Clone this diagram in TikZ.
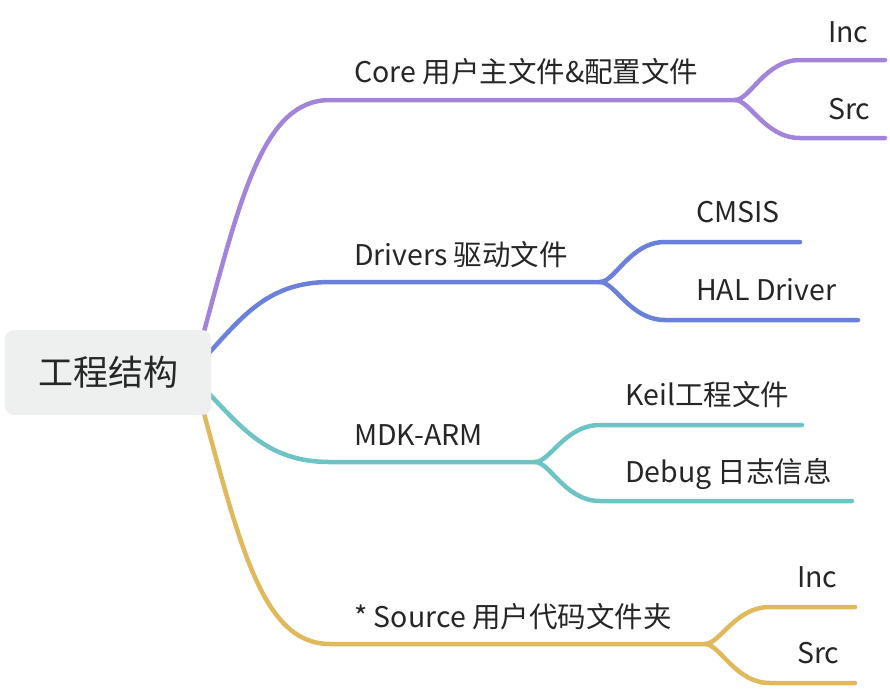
\documentclass[tikz,border=0pt]{standalone}
\usepackage{fontspec}
\setmainfont{Noto Sans CJK SC}
\usetikzlibrary{calc,backgrounds}
\definecolor{corec}{HTML}{A384DB}
\definecolor{drvc}{HTML}{6B80DA}
\definecolor{mdkc}{HTML}{6EC4C4}
\definecolor{usrc}{HTML}{DFB95C}
\definecolor{rootc}{HTML}{EEF0EF}
\definecolor{txtc}{HTML}{262626}
\tikzset{
    topic/.style = {fill=rootc, rounded corners=9pt,
        minimum width=206pt, minimum height=85pt, text=txtc,
        font=\fontsize{35pt}{40pt}\selectfont},
    sub/.style = {inner sep=0pt, anchor=base west, text=txtc,
        font=\fontsize{28.5pt}{33pt}\selectfont},
    branch/.style = {line width=4.5pt, line cap=round}
}

\begin{document}
\begin{tikzpicture}[x=1pt,y=-1pt]
    \useasboundingbox (0,0) rectangle (890,689);
    \node [topic] (root) at (108,372.5) {工程结构};
    % labels
    \node [sub] (core) at (354,82) {Core 用户主文件\&配置文件};
    \node [sub] (coreinc) at (828,42) {Inc};
    \node [sub] (coresrc) at (828,119) {Src};
    \node [sub] (drv) at (354,265) {Drivers 驱动文件};
    \node [sub] (cmsis) at (696,222) {CMSIS};
    \node [sub] (hal) at (696,300) {HAL Driver};
    \node [sub] (mdk) at (354,445) {MDK-ARM};
    \node [sub] (keil) at (625,405) {Keil工程文件};
    \node [sub] (dbg) at (625,482) {Debug 日志信息};
    \node [sub] (usr) at (354,627) {* Source 用户代码文件夹};
    \node [sub] (usrinc) at (797,587) {Inc};
    \node [sub] (usrsrc) at (797,663) {Src};
    % branch points
    \coordinate (coreA) at (330,100);
    \coordinate (coreJ) at (735,100);
    \coordinate (coreI) at (885,60);
    \coordinate (coreS) at (885,138);
    \coordinate (drvA) at (330,282);
    \coordinate (drvJ) at (600,282);
    \coordinate (drvC) at (800,242);
    \coordinate (drvH) at (858,320);
    \coordinate (mdkA) at (330,462);
    \coordinate (mdkJ) at (535,462);
    \coordinate (mdkK) at (802,425);
    \coordinate (mdkD) at (852,501);
    \coordinate (usrA) at (330,644);
    \coordinate (usrJ) at (705,644);
    \coordinate (usrI) at (855,607);
    \coordinate (usrS) at (855,683);
    \begin{scope}[on background layer]
        \draw [branch,corec] ($(root.east)+(-11,-27)$) .. controls (240,200) and (262,100) .. (coreA) -- (coreJ);
        \draw [branch,corec] (coreJ) .. controls +(15,0) and +(-35,0) .. ($(coreJ |- coreI)+(65,0)$) -- (coreI);
        \draw [branch,corec] (coreJ) .. controls +(15,0) and +(-35,0) .. ($(coreJ |- coreS)+(65,0)$) -- (coreS);
        \draw [branch,drvc] ($(root.east)+(-11,-10)$) .. controls (240,320) and (265,282) .. (drvA) -- (drvJ);
        \draw [branch,drvc] (drvJ) .. controls +(15,0) and +(-35,0) .. ($(drvJ |- drvC)+(65,0)$) -- (drvC);
        \draw [branch,drvc] (drvJ) .. controls +(15,0) and +(-35,0) .. ($(drvJ |- drvH)+(65,0)$) -- (drvH);
        \draw [branch,mdkc] ($(root.east)+(-11,12)$) .. controls (240,425) and (265,462) .. (mdkA) -- (mdkJ);
        \draw [branch,mdkc] (mdkJ) .. controls +(15,0) and +(-35,0) .. ($(mdkJ |- mdkK)+(65,0)$) -- (mdkK);
        \draw [branch,mdkc] (mdkJ) .. controls +(15,0) and +(-35,0) .. ($(mdkJ |- mdkD)+(65,0)$) -- (mdkD);
        \draw [branch,usrc] ($(root.east)+(-11,27)$) .. controls (240,545) and (262,644) .. (usrA) -- (usrJ);
        \draw [branch,usrc] (usrJ) .. controls +(15,0) and +(-35,0) .. ($(usrJ |- usrI)+(65,0)$) -- (usrI);
        \draw [branch,usrc] (usrJ) .. controls +(15,0) and +(-35,0) .. ($(usrJ |- usrS)+(65,0)$) -- (usrS);
    \end{scope}
\end{tikzpicture}
\end{document}
